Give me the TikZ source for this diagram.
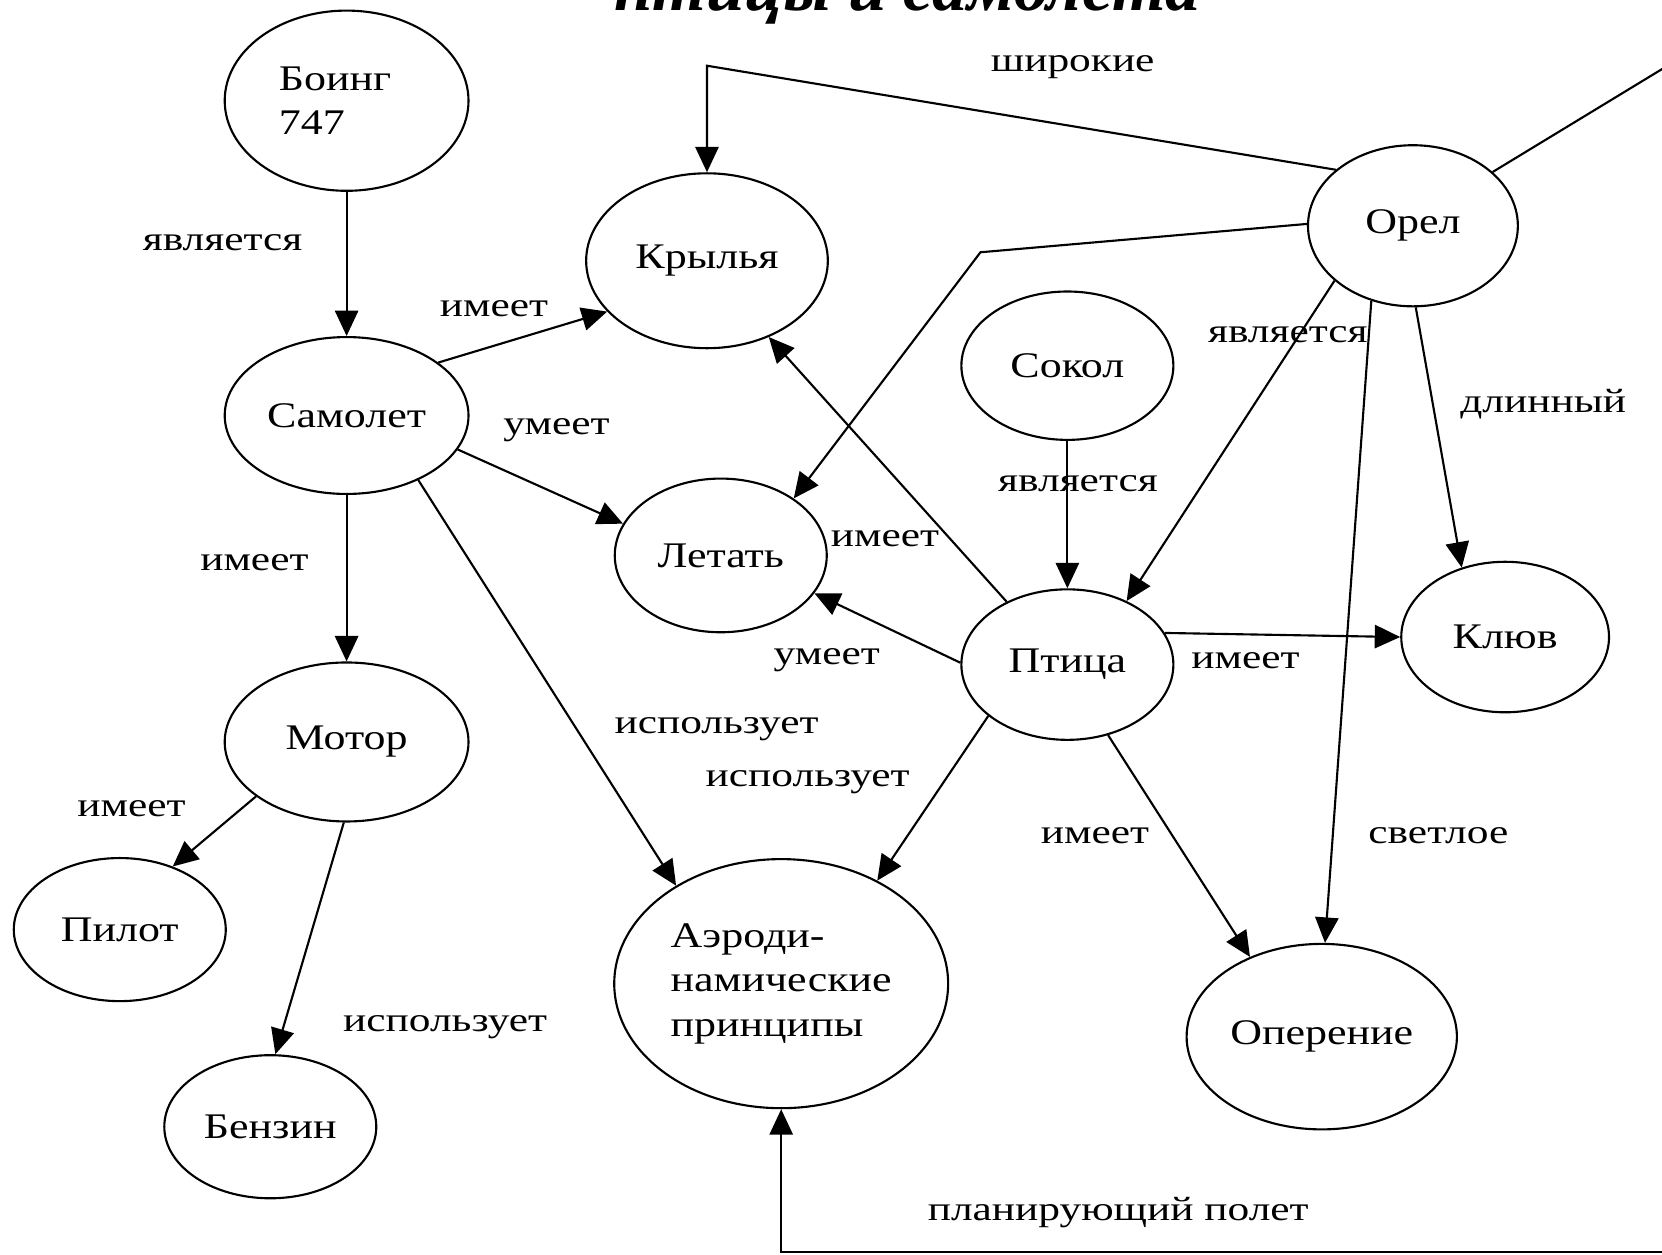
\documentclass[tikz,border=0pt]{standalone}
\usepackage{fontspec}
\setmainfont{Liberation Serif}
\newfontfamily\wideserif[FakeStretch=1.22]{Liberation Serif}
\newfontfamily\labelserif[FakeStretch=1.28]{Liberation Serif}
\usetikzlibrary{shapes.geometric,arrows.meta}

\begin{document}
\begin{tikzpicture}[x=1pt,y=-1pt,
  concept/.style={draw,ellipse,line width=2pt,inner sep=0pt,
    font=\wideserif\fontsize{34}{42}\selectfont},
  rel/.style={font=\labelserif\fontsize{32}{36}\selectfont,inner sep=0pt},
  arr/.style={line width=2pt,-{Triangle[length=24pt,width=22pt]}},
  plain/.style={line width=2pt}]

\useasboundingbox (0,0) rectangle (1568,1184);
\clip (0,0) rectangle (1568,1184);
\fill[white] (0,0) rectangle (1568,1184);

% title line, cut by the top edge
\node[anchor=base,font=\fontsize{65}{72}\selectfont\bfseries\itshape] (title) at (856,10) {птицы и самолета};

% concepts
\node[concept,minimum width=230pt,minimum height=170pt,align=left] (boeing) at (327,95) {Боинг\hspace*{22pt}\\747};
\node[concept,minimum width=230pt,minimum height=148pt] (samolet) at (327,392) {Самолет};
\node[concept,minimum width=230pt,minimum height=150pt] (motor) at (327,700) {Мотор};
\node[concept,minimum width=200pt,minimum height=135pt] (pilot) at (113,877) {Пилот};
\node[concept,minimum width=200pt,minimum height=135pt] (benzin) at (255,1063) {Бензин};
\node[concept,minimum width=228pt,minimum height=165pt] (krylya) at (667,246) {Крылья};
\node[concept,minimum width=200pt,minimum height=145pt] (letat) at (680,524) {Летать};
\node[concept,minimum width=315pt,minimum height=235pt,align=left] (aero) at (737,928) {Аэроди-\\намические\\принципы};
\node[concept,minimum width=200pt,minimum height=140pt] (sokol) at (1007,345) {Сокол};
\node[concept,minimum width=200pt,minimum height=142pt] (ptica) at (1007,627) {Птица};
\node[concept,minimum width=198pt,minimum height=152pt] (orel) at (1333,213) {Орел};
\node[concept,minimum width=196pt,minimum height=142pt] (klyuv) at (1420,601) {Клюв};
\node[concept,minimum width=255pt,minimum height=175pt] (operenie) at (1247,978) {Оперение};

% bend points and loose ends
\coordinate (wingbend) at (667,62);
\coordinate (flybend) at (925,238);
\coordinate (outtop) at (1700,-15);
\coordinate (outbottom) at (1700,1181);

% connectors
\draw[arr] (boeing) -- (samolet);
\draw[arr] (samolet.30) -- (krylya.207);
\draw[arr] (samolet.-17) -- (letat.162);
\draw[arr] (samolet) -- (motor);
\draw[arr] (samolet.-42) -- (aero.137);
\draw[arr] (motor.211) -- (pilot.50);
\draw[arr] (motor.268) -- (benzin.86);
\draw[arr] (ptica.134) -- (krylya.-51);
\draw[arr] (ptica.179) -- (letat.-22);
\draw[arr] (ptica.213) -- (aero.47);
\draw[arr] (ptica.18) -- (klyuv.180);
\draw[arr] (ptica.-60) -- (operenie.132);
\draw[arr] (sokol) -- (ptica);
\draw[arr] (orel.215) -- (ptica.47);
\draw[arr] (orel.-88) -- (klyuv.122);
\draw[arr] (orel.241) -- (operenie.88);
\draw[arr] (orel.144) -- (wingbend) -- (krylya.north);
\draw[arr] (orel.179) -- (flybend) -- (letat.38);
\draw[plain] (orel.34) -- (outtop);
\draw[arr] (outbottom) -| (aero.south);

% relation labels
\node[rel] (l1) at (210,229) {является};
\node[rel] (l2) at (466,291) {имеет};
\node[rel] (l3) at (525,406) {умеет};
\node[rel] (l4) at (240,531) {имеет};
\node[rel] (l5) at (676,688) {использует};
\node[rel] (l6) at (124,763) {имеет};
\node[rel] (l7) at (420,969) {использует};
\node[rel] (l8) at (835,508) {имеет};
\node[rel] (l9) at (780,623) {умеет};
\node[rel] (l10) at (762,738) {использует};
\node[rel] (l11) at (1175,623) {имеет};
\node[rel] (l12) at (1033,788) {имеет};
\node[rel] (l13) at (1017,456) {является};
\node[rel] (l14) at (1215,316) {является};
\node[rel] (l15) at (1456,381) {длинный};
\node[rel] (l16) at (1357,788) {светлое};
\node[rel] (l17) at (1012,63) {широкие};
\node[rel] (l18) at (1055,1144) {планирующий полет};
\end{tikzpicture}
\end{document}
